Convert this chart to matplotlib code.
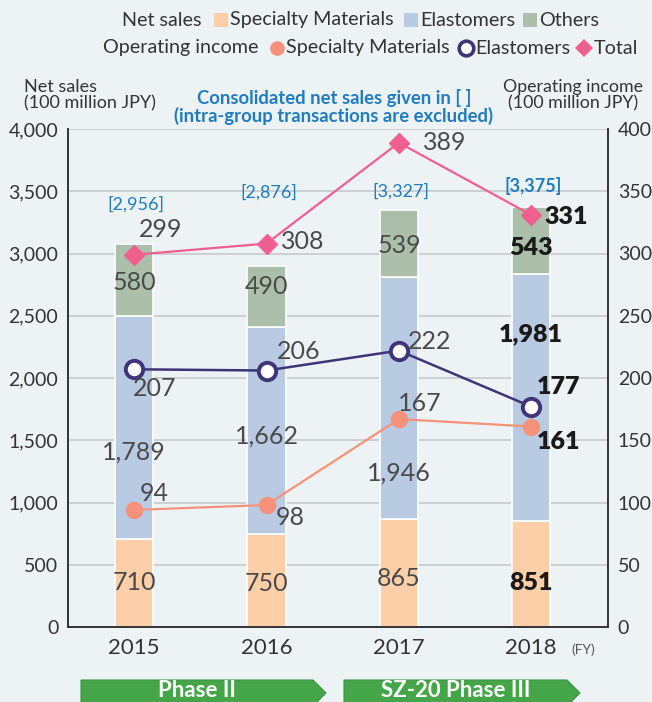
import matplotlib
matplotlib.use("Agg")
import matplotlib.pyplot as plt
from matplotlib.lines import Line2D
from matplotlib.patches import Polygon
import numpy as np

plt.rcParams['font.family'] = ['Lato', 'DejaVu Sans']

years = ['2015', '2016', '2017', '2018']
sales_specialty = [710, 750, 865, 851]
sales_elastomers = [1789, 1662, 1946, 1981]
sales_others = [580, 490, 539, 543]
consolidated = ['[2,956]', '[2,876]', '[3,327]', '[3,375]']
oi_specialty = [94, 98, 167, 161]
oi_elastomers = [207, 206, 222, 177]
oi_total = [299, 308, 389, 331]

BG = '#edf2f4'
C_SPEC = '#fccfa9'
C_ELA = '#b9cae3'
C_OTH = '#abbfab'
C_LSPEC = '#f59279'
C_LELA = '#3e3477'
C_LTOT = '#ef5f8f'
C_BLUE = '#1f7cc1'
TXT = '#4a4a4a'

W, H = 652, 702


def fx(px):
    return px / W


def fy(py):
    return 1 - py / H


fig = plt.figure(figsize=(W / 100, H / 100), dpi=100, facecolor=BG)
ax = fig.add_axes([fx(68), fy(627), 540 / W, 498 / H])
ax.set_facecolor(BG)
ax2 = ax.twinx()

x = np.arange(len(years))
bw = 0.29
spec = np.array(sales_specialty)
ela = np.array(sales_elastomers)
oth = np.array(sales_others)

ax.bar(x, spec, bw, color=C_SPEC, edgecolor='white', linewidth=1.2, zorder=2)
ax.bar(x, ela, bw, bottom=spec, color=C_ELA, edgecolor='white', linewidth=1.2, zorder=2)
ax.bar(x, oth, bw, bottom=spec + ela, color=C_OTH, edgecolor='white', linewidth=1.2, zorder=2)

ax.set_xlim(-0.5, 3.58)
ax.set_ylim(0, 4000)
ax.set_yticks(range(0, 4001, 500))
ax.set_yticklabels([f'{v:,}' for v in range(0, 4001, 500)])
ax.yaxis.grid(True, color='#c9cdd0', linewidth=1.3, zorder=0)
ax.set_axisbelow(True)
ax.set_xticks(x)
ax.set_xticklabels(years)
ax.tick_params(axis='y', length=0, pad=7, labelsize=14, labelcolor='#333333')
ax.tick_params(axis='x', length=0, pad=8, labelsize=16, labelcolor='#333333')

ax2.set_ylim(0, 400)
ax2.set_yticks(range(0, 401, 50))
ax2.tick_params(axis='y', length=0, pad=7, labelsize=14, labelcolor='#333333')

for a in (ax, ax2):
    a.spines['top'].set_visible(False)
    for s in ('left', 'right', 'bottom'):
        a.spines[s].set_color('#333333')
        a.spines[s].set_linewidth(1.2)

ax2.plot(x, oi_total, color=C_LTOT, lw=1.6, marker='D', ms=10, mec=C_LTOT, mfc=C_LTOT, zorder=5)
ax2.plot(x, oi_elastomers, color=C_LELA, lw=1.8, marker='o', ms=12.5, mfc='white', mec=C_LELA, mew=2.8, zorder=5)
ax2.plot(x, oi_specialty, color=C_LSPEC, lw=1.6, marker='o', ms=11.5, mfc=C_LSPEC, mec=C_LSPEC, zorder=5)

bold = [False, False, False, True]


def lab(a, xi, yv, s, dx, dy, b, color=None, size=18):
    a.annotate(s, (xi, yv), xytext=(dx, dy), textcoords='offset pixels',
               ha='center', va='center', fontsize=size,
               color=color or ('#1a1a1a' if b else TXT),
               fontweight='heavy' if b else 'normal', zorder=6)


spec_off = [0, -3, -5, -9]
ela_off = [-25, -6, -75, 63]
oth_off = [-3, 10, -2, -7]
for i in range(4):
    lab(ax, x[i], spec[i] / 2, f'{spec[i]:,}', 0, spec_off[i], bold[i])
    lab(ax, x[i], spec[i] + ela[i] / 2, f'{ela[i]:,}', 0, ela_off[i], bold[i])
    lab(ax, x[i], spec[i] + ela[i] + oth[i] / 2, f'{oth[i]:,}', 0, oth_off[i], bold[i])

cons_off = [39, 73, 18, 21]
for i in range(4):
    top = spec[i] + ela[i] + oth[i]
    ax.annotate(consolidated[i], (x[i], top), xytext=(2, cons_off[i]),
                textcoords='offset pixels', ha='center', va='center',
                fontsize=13, color=C_BLUE, fontweight='bold' if bold[i] else 'normal')

tot_off = [(26, 25), (36, 2), (46, 0), (35, -2)]
ela_l_off = [(20, -19), (32, 19), (31, 9), (27, 20)]
spec_l_off = [(20, 16), (24, -13), (21, 16), (27, -15)]
for i in range(4):
    lab(ax2, x[i], oi_total[i], str(oi_total[i]), *tot_off[i], bold[i])
    lab(ax2, x[i], oi_elastomers[i], str(oi_elastomers[i]), *ela_l_off[i], bold[i])
    lab(ax2, x[i], oi_specialty[i], str(oi_specialty[i]), *spec_l_off[i], bold[i])

# axis titles and note
fig.text(fx(24), fy(95), 'Net sales\n(100 million JPY)', ha='left', va='center',
         fontsize=13, color='#333333', linespacing=1.0)
fig.text(fx(573), fy(95), 'Operating income\n(100 million JPY)', ha='center', va='center',
         fontsize=12.8, color='#333333', linespacing=1.0, multialignment='center')
fig.text(fx(334), fy(107), 'Consolidated net sales given in [ ]\n(intra-group transactions are excluded)',
         ha='center', va='center', fontsize=13.3, color=C_BLUE, fontweight='bold',
         linespacing=0.95, multialignment='center')
fig.text(fx(583), fy(650), '(FY)', ha='center', va='center', fontsize=10, color='#555555')

# legend rows
renderer = fig.canvas.get_renderer()


def legend_row(items, x0, y):
    xc = x0
    for kind, val in items:
        if kind == 't':
            t = fig.text(fx(xc), fy(y), val, ha='left', va='center', fontsize=14.2, color='#333333')
            xc += t.get_window_extent(renderer).width + 2
        elif kind == 'g':
            xc += val
        else:
            mk, fc, ec, ms, mew = val
            fig.add_artist(Line2D([fx(xc + 7)], [fy(y)], transform=fig.transFigure, marker=mk,
                                  ms=ms, mfc=fc, mec=ec, mew=mew, linestyle='none'))
            xc += 16


legend_row([('t', 'Net sales'), ('g', 10),
            ('m', ('s', C_SPEC, C_SPEC, 9.5, 0)), ('t', 'Specialty Materials'), ('g', 9),
            ('m', ('s', C_ELA, C_ELA, 9.5, 0)), ('t', 'Elastomers'), ('g', 6),
            ('m', ('s', C_OTH, C_OTH, 9.5, 0)), ('t', 'Others')], 122, 20)
legend_row([('t', 'Operating income'), ('g', 9),
            ('m', ('o', C_LSPEC, C_LSPEC, 10.5, 0)), ('t', 'Specialty Materials'), ('g', 8),
            ('m', ('o', 'white', C_LELA, 10.5, 2.6)), ('t', 'Elastomers'), ('g', 5),
            ('m', ('D', C_LTOT, C_LTOT, 9.5, 0)), ('t', 'Total')], 103, 48)

# phase arrows
for x0, x1, label in [(81, 326, 'Phase II'), (344, 580, 'SZ-20 Phase III')]:
    pts = [(x0, 680), (x1 - 13, 680), (x1, 693), (x1 - 13, 706), (x0, 706)]
    fig.add_artist(Polygon([(fx(a), fy(b)) for a, b in pts], closed=True,
                           transform=fig.transFigure, facecolor='#44a648',
                           edgecolor='#3a9440', linewidth=0.8))
    fig.text(fx((x0 + x1 - 13) / 2), fy(690.5), label, ha='center', va='center',
             fontsize=16, color='white', fontweight='bold')

fig.savefig('out.png', dpi=100, facecolor=BG)
